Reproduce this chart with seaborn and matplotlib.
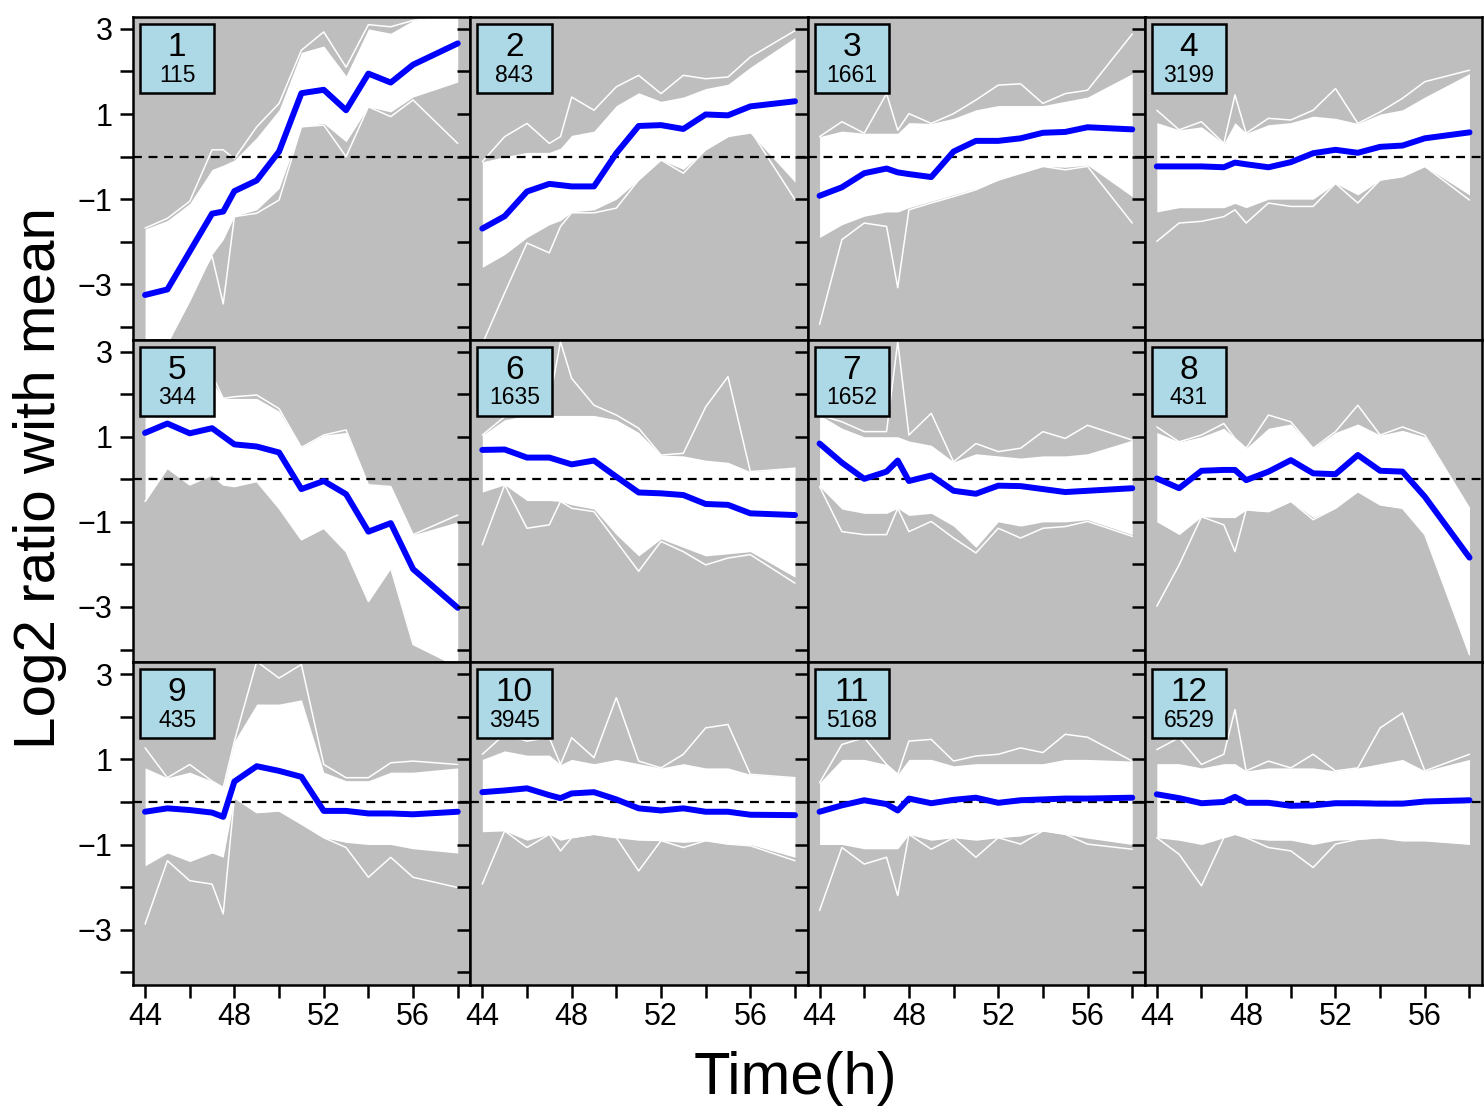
import numpy as np
import pandas as pd
import matplotlib
matplotlib.use("Agg")
import matplotlib.pyplot as plt
from matplotlib.patches import Rectangle
import seaborn as sns

# time points (h)
hours = [44, 45, 46, 47, 47.5, 48, 49, 50, 51, 52, 53, 54, 55, 56, 58]

cluster_ids = list(range(1, 13))
cluster_sizes = [115, 843, 1661, 3199, 344, 1635, 1652, 431, 435, 3945, 5168, 6529]

# cluster mean profile (blue line)
mean_profile = [
    [-3.25, -3.12, -2.23, -1.34, -1.29, -0.81, -0.56, 0.12, 1.49, 1.57, 1.09, 1.95, 1.74, 2.16, 2.66],
    [-1.69, -1.40, -0.82, -0.64, -0.67, -0.70, -0.70, 0.08, 0.72, 0.74, 0.65, 0.99, 0.97, 1.18, 1.30],
    [-0.92, -0.72, -0.39, -0.28, -0.37, -0.41, -0.48, 0.12, 0.37, 0.37, 0.43, 0.56, 0.58, 0.69, 0.64],
    [-0.23, -0.23, -0.23, -0.25, -0.14, -0.18, -0.25, -0.13, 0.08, 0.16, 0.09, 0.23, 0.26, 0.43, 0.57],
    [1.09, 1.31, 1.08, 1.20, 1.01, 0.82, 0.77, 0.63, -0.23, -0.04, -0.35, -1.23, -1.03, -2.11, -3.02],
    [0.69, 0.70, 0.51, 0.51, 0.43, 0.35, 0.44, 0.06, -0.31, -0.33, -0.37, -0.58, -0.60, -0.80, -0.84],
    [0.84, 0.39, 0.01, 0.18, 0.44, -0.04, 0.09, -0.27, -0.34, -0.15, -0.16, -0.23, -0.30, -0.27, -0.21],
    [0.02, -0.21, 0.20, 0.22, 0.22, -0.02, 0.18, 0.45, 0.14, 0.12, 0.57, 0.20, 0.18, -0.41, -1.84],
    [-0.23, -0.15, -0.19, -0.25, -0.35, 0.48, 0.84, 0.73, 0.59, -0.21, -0.21, -0.27, -0.27, -0.29, -0.23],
    [0.23, 0.27, 0.32, 0.16, 0.09, 0.20, 0.23, 0.06, -0.15, -0.20, -0.15, -0.23, -0.23, -0.30, -0.31],
    [-0.23, -0.08, 0.04, -0.05, -0.20, 0.08, -0.03, 0.05, 0.10, -0.02, 0.04, 0.06, 0.08, 0.08, 0.10],
    [0.18, 0.09, -0.03, 0.00, 0.12, -0.02, -0.02, -0.09, -0.08, -0.03, -0.03, -0.04, -0.04, 0.01, 0.04],
]

# outermost member genes (thin white lines incl. spikes)
upper_edge = [
    [-1.68, -1.45, -1.05, 0.16, 0.16, -0.05, 0.70, 1.25, 2.50, 2.93, 2.10, 3.10, 3.05, 3.20, 3.35],
    [-0.12, 0.47, 0.78, 0.31, 0.47, 1.40, 1.09, 1.64, 1.91, 1.48, 1.91, 1.83, 1.87, 2.34, 2.96],
    [0.47, 0.82, 0.55, 1.48, 0.62, 1.01, 0.78, 1.01, 1.33, 1.68, 1.71, 1.25, 1.48, 1.56, 2.88],
    [1.09, 0.63, 0.82, 0.31, 1.45, 0.55, 0.90, 0.86, 1.09, 1.60, 0.78, 1.05, 1.37, 1.76, 2.03],
    [2.00, 2.20, 2.50, 2.45, 1.90, 1.94, 1.98, 1.66, 0.75, 1.04, 1.16, -0.13, -0.17, -1.30, -0.84],
    [1.04, 1.47, 1.59, 1.82, 3.23, 2.37, 1.74, 1.51, 1.20, 0.57, 0.61, 1.70, 2.41, 0.18, 0.26],
    [1.51, 1.35, 1.12, 1.12, 3.23, 1.04, 1.55, 0.41, 0.84, 0.65, 0.73, 1.12, 0.96, 1.27, 0.92],
    [1.23, 0.88, 1.04, 1.31, 0.96, 0.73, 1.51, 1.35, 0.73, 1.12, 1.74, 1.04, 1.23, 1.04, -0.68],
    [1.27, 0.57, 0.88, 0.49, 0.34, 1.43, 3.30, 2.91, 3.23, 0.88, 0.57, 0.57, 0.92, 0.96, 0.88],
    [1.12, 1.59, 1.43, 1.51, 0.88, 1.51, 1.04, 2.45, 0.96, 0.80, 1.12, 1.74, 1.82, 0.65, 0.57],
    [0.45, 1.35, 1.51, 0.88, 0.65, 1.43, 1.47, 0.96, 1.08, 1.12, 1.27, 1.16, 1.59, 1.52, 0.96],
    [1.23, 1.51, 0.88, 1.12, 2.17, 0.73, 0.96, 0.80, 1.12, 0.73, 0.80, 1.74, 2.09, 0.73, 1.12],
]
lower_edge = [
    [-4.40, -4.40, -3.20, -2.34, -3.46, -1.41, -1.33, -1.02, 0.70, 0.74, 0.00, 1.17, 0.94, 1.33, 0.31],
    [-4.40, -3.20, -2.03, -2.26, -1.64, -1.32, -1.32, -1.21, -0.55, -0.08, -0.39, 0.16, 0.47, 0.62, -1.01],
    [-3.94, -1.95, -1.56, -1.64, -3.08, -1.25, -1.09, -0.94, -0.78, -0.55, -0.39, -0.23, -0.31, -0.23, -1.56],
    [-1.99, -1.56, -1.52, -1.41, -1.25, -1.56, -1.09, -1.17, -1.17, -0.63, -1.09, -0.55, -0.47, -0.23, -1.02],
    [-0.52, 0.26, -0.13, 0.10, -0.13, -0.17, -0.05, -0.68, -1.42, -1.15, -1.70, -2.87, -2.09, -3.88, -4.40],
    [-1.54, -0.13, -1.15, -1.07, -0.52, -0.68, -0.76, -1.46, -2.16, -1.46, -1.70, -2.01, -1.85, -1.77, -2.44],
    [-0.17, -1.23, -1.30, -1.30, -0.68, -1.23, -0.99, -1.38, -1.73, -1.15, -1.38, -1.15, -1.11, -0.99, -1.34],
    [-2.98, -2.01, -0.88, -1.07, -1.70, -0.72, -0.76, -0.52, -0.95, -0.68, -0.29, -0.60, -0.68, -1.30, -4.12],
    [-2.87, -1.38, -1.85, -1.93, -2.63, 0.10, -0.25, -0.21, -0.52, -0.84, -1.07, -1.77, -1.30, -1.77, -2.01],
    [-1.93, -0.68, -1.07, -0.76, -1.15, -0.84, -0.76, -0.84, -1.62, -0.91, -1.07, -0.91, -0.99, -1.03, -1.38],
    [-2.55, -1.07, -1.46, -1.30, -2.20, -0.76, -1.11, -0.84, -1.30, -0.84, -0.99, -0.68, -0.76, -0.99, -1.11],
    [-0.84, -1.23, -1.97, -0.84, -0.76, -0.84, -1.07, -1.15, -1.54, -0.99, -0.88, -0.84, -0.91, -0.91, -0.99],
]

# edges of the dense white mass
core_upper = [
    [-1.70, -1.50, -1.10, -0.30, -0.20, -0.08, 0.45, 1.10, 2.45, 2.60, 1.90, 3.00, 2.90, 3.20, 3.35],
    [-0.12, 0.00, 0.10, 0.10, 0.20, 0.50, 0.60, 1.20, 1.50, 1.30, 1.40, 1.60, 1.70, 2.10, 2.80],
    [0.47, 0.60, 0.55, 0.55, 0.55, 0.80, 0.78, 0.90, 1.10, 1.20, 1.20, 1.20, 1.30, 1.40, 1.95],
    [0.80, 0.63, 0.70, 0.31, 0.80, 0.55, 0.75, 0.80, 0.95, 0.90, 0.78, 1.00, 1.10, 1.40, 1.95],
    [2.00, 2.20, 2.40, 2.30, 1.90, 1.90, 1.90, 1.60, 0.75, 1.04, 1.10, -0.13, -0.17, -1.30, -1.00],
    [1.04, 1.40, 1.50, 1.50, 1.50, 1.50, 1.50, 1.40, 1.10, 0.57, 0.55, 0.45, 0.40, 0.18, 0.26],
    [1.51, 1.20, 1.00, 1.00, 1.00, 0.90, 0.80, 0.41, 0.60, 0.55, 0.50, 0.55, 0.55, 0.60, 0.92],
    [1.10, 0.88, 1.00, 1.20, 0.96, 0.73, 1.20, 1.30, 0.73, 1.10, 1.30, 1.04, 1.15, 1.00, -0.68],
    [0.80, 0.57, 0.70, 0.49, 0.34, 1.43, 2.30, 2.30, 2.40, 0.70, 0.50, 0.50, 0.70, 0.70, 0.80],
    [1.00, 1.20, 1.10, 1.10, 0.88, 1.00, 0.90, 1.00, 0.90, 0.80, 0.90, 0.80, 0.80, 0.65, 0.57],
    [0.45, 1.00, 1.00, 0.88, 0.65, 1.00, 1.00, 0.85, 0.90, 0.90, 0.90, 0.90, 1.00, 1.00, 0.96],
    [0.90, 0.90, 0.80, 0.90, 0.90, 0.73, 0.80, 0.80, 0.80, 0.73, 0.80, 0.90, 1.00, 0.73, 1.00],
]
core_lower = [
    [-4.40, -4.40, -3.40, -2.30, -1.95, -1.40, -1.25, -0.75, 0.70, 0.78, 0.35, 1.17, 1.05, 1.40, 1.75],
    [-2.60, -2.30, -1.90, -1.60, -1.50, -1.30, -1.25, -1.00, -0.55, -0.08, -0.30, 0.16, 0.47, 0.55, -0.60],
    [-1.90, -1.60, -1.40, -1.30, -1.30, -1.20, -1.05, -0.90, -0.75, -0.55, -0.39, -0.23, -0.25, -0.20, -0.94],
    [-1.30, -1.20, -1.20, -1.20, -1.10, -1.20, -1.00, -1.00, -1.00, -0.63, -0.90, -0.55, -0.47, -0.23, -0.90],
    [-0.52, 0.26, -0.13, 0.10, -0.13, -0.17, -0.05, -0.68, -1.42, -1.15, -1.70, -2.87, -2.09, -3.88, -4.40],
    [-0.30, -0.13, -0.50, -0.50, -0.52, -0.60, -0.70, -1.30, -1.80, -1.40, -1.60, -1.80, -1.75, -1.70, -2.30],
    [-0.17, -0.70, -0.80, -0.80, -0.68, -0.85, -0.80, -1.10, -1.60, -1.00, -1.10, -1.00, -1.00, -0.95, -1.30],
    [-1.00, -1.30, -0.88, -0.90, -0.90, -0.72, -0.76, -0.52, -0.90, -0.68, -0.29, -0.60, -0.68, -1.30, -4.12],
    [-1.50, -1.20, -1.40, -1.20, -1.30, 0.10, -0.25, -0.21, -0.52, -0.84, -0.95, -1.00, -1.00, -1.10, -1.20],
    [-0.70, -0.68, -0.90, -0.76, -0.90, -0.84, -0.76, -0.84, -0.90, -0.91, -0.95, -0.91, -0.99, -1.00, -1.30],
    [-1.00, -1.00, -1.10, -1.10, -1.10, -0.76, -0.90, -0.84, -0.90, -0.84, -0.80, -0.68, -0.76, -0.85, -1.00],
    [-0.84, -0.90, -1.00, -0.84, -0.76, -0.84, -0.90, -0.90, -1.00, -0.90, -0.88, -0.84, -0.91, -0.91, -0.99],
]

x_major = [44, 48, 52, 56]
x_minor = [46, 50, 54, 58]
y_major = [-3, -1, 1, 3]
y_minor = [-4, -2, 0, 2]

# long table for seaborn
rows = []
for k, cid in enumerate(cluster_ids):
    for j, h in enumerate(hours):
        rows.append({"cluster": cid, "hour": h, "mean": mean_profile[k][j],
                     "upper": upper_edge[k][j], "lower": lower_edge[k][j],
                     "core_hi": core_upper[k][j], "core_lo": core_lower[k][j]})
df = pd.DataFrame(rows)

sns.set_style("ticks")
plt.rcParams["font.family"] = ["Liberation Sans", "DejaVu Sans"]
plt.rcParams["text.color"] = "black"
plt.rcParams["xtick.color"] = "black"
plt.rcParams["ytick.color"] = "black"
plt.rcParams["axes.unicode_minus"] = True

fig, axes = plt.subplots(3, 4, figsize=(14.84, 11.09), dpi=100)
fig.subplots_adjust(left=133 / 1484, right=1482 / 1484, top=1 - 17 / 1109,
                    bottom=1 - 985 / 1109, wspace=0, hspace=0)

for k, cid in enumerate(cluster_ids):
    ax = axes[k // 4, k % 4]
    sub = df[df["cluster"] == cid]
    ax.set_facecolor("#bebebe")

    # white bundle of member profiles
    ax.fill_between(sub["hour"], sub["core_lo"], sub["core_hi"], color="white", lw=0)
    sns.lineplot(data=sub, x="hour", y="upper", color="white", lw=1.1, ax=ax)
    sns.lineplot(data=sub, x="hour", y="lower", color="white", lw=1.1, ax=ax)

    ax.axhline(0, color="black", lw=1.6, dashes=(4, 3), zorder=3)
    sns.lineplot(data=sub, x="hour", y="mean", color="#0000ff", lw=4.3, ax=ax, zorder=4)

    ax.set_xlim(43.46, 58.56)
    ax.set_ylim(-4.30, 3.28)
    ax.set_xlabel("")
    ax.set_ylabel("")

    ax.set_xticks(x_major)
    ax.set_xticks(x_minor, minor=True)
    ax.set_yticks(y_major)
    ax.set_yticks(y_minor, minor=True)
    ax.tick_params(axis="both", which="both", direction="out", length=9.5, width=1.8,
                   colors="black", labelsize=22, top=False, right=False)
    ax.tick_params(axis="y", which="both", pad=5)
    ax.tick_params(axis="x", which="both", pad=3)
    if k // 4 < 2:
        ax.tick_params(axis="x", which="both", bottom=False, labelbottom=False)
    if k % 4 > 0:
        ax.tick_params(axis="y", which="both", labelleft=False)

    for sp in ax.spines.values():
        sp.set_visible(True)
        sp.set_color("black")
        sp.set_linewidth(1.8)

    # cluster label box
    ax.add_patch(Rectangle((0.021, 0.978 - 0.214), 0.22, 0.214, transform=ax.transAxes,
                           facecolor="#add8e6", edgecolor="black", lw=1.8, zorder=6))
    ax.text(0.131, 0.905, str(cid), transform=ax.transAxes, ha="center", va="center",
            fontsize=24, zorder=7)
    ax.text(0.131, 0.82, str(cluster_sizes[k]), transform=ax.transAxes, ha="center",
            va="center", fontsize=16.5, zorder=7)

fig.text(40 / 1484, 1 - 478 / 1109, "Log2 ratio with mean", rotation=90,
         ha="center", va="center", fontsize=42)
fig.text(795 / 1484, 1 - 1079 / 1109, "Time(h)", ha="center", va="center", fontsize=43)

fig.savefig("out.png", dpi=100)
